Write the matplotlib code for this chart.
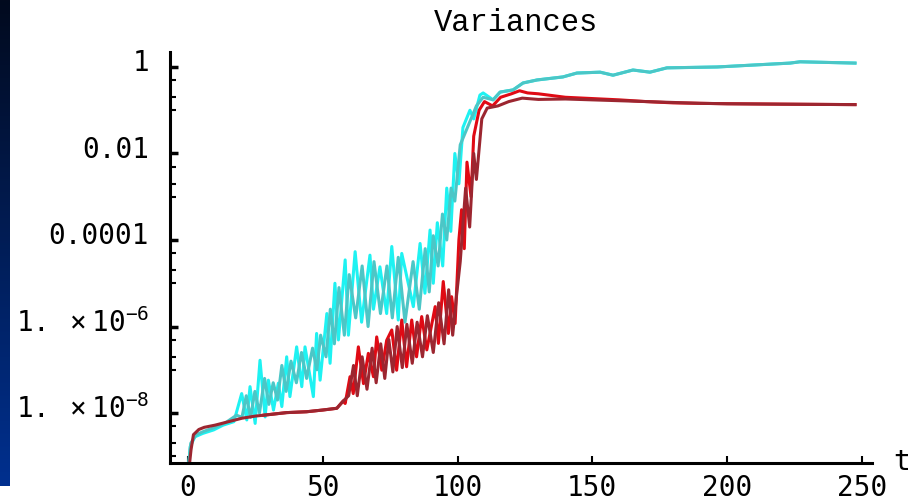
import numpy as np
import matplotlib
matplotlib.use("Agg")
import matplotlib.pyplot as plt
from matplotlib.colors import LinearSegmentedColormap
from matplotlib.ticker import FixedLocator, FuncFormatter
from matplotlib.transforms import ScaledTranslation

# values, stored as log10 of the variance
t_cyan = [0, 0.8, 2.5, 5.5, 9.5, 13, 17, 19.9, 21.8, 23, 24.9, 26.7, 28.6, 29.8,
          31.7, 33.5, 34.8, 36.6, 37.8, 40.3, 42.2, 43.4, 46.5, 47.7, 49, 51.5,
          52.7, 54.5, 55.8, 58.3, 59.5, 62, 64.4, 67.5, 68.8, 71.2, 73.7, 75.6,
          78, 79.3, 83.6, 86.1, 87.9, 89.8, 91, 92.5, 94.5, 96, 97.5, 99, 100.5,
          102, 104.6, 106, 108.3, 109.5, 113.2, 115.8, 120.6, 124.3, 129.5,
          139.1, 144.3, 152.9, 157.7, 165.1, 171.4, 177.7, 196.3, 223.4, 227.1,
          247.5]
lg_cyan = [-9.4, -8.78, -8.55, -8.47, -8.39, -8.28, -8.20, -7.55, -8.16, -7.39,
           -8.24, -6.78, -8.09, -7.24, -7.93, -7.31, -7.85, -6.70, -7.62, -6.47,
           -7.39, -6.47, -7.62, -6.16, -7.24, -5.70, -6.85, -5.0, -6.31, -4.46,
           -6.2, -4.27, -5.9, -4.35, -5.6, -4.62, -5.70, -4.15, -5.85, -4.31,
           -5.54, -4.08, -5.23, -3.77, -5.0, -3.6, -4.6, -2.8, -3.8, -2.0, -2.7,
           -1.4, -1.0, -1.2, -0.65, -0.60, -0.76, -0.58, -0.53, -0.37, -0.30,
           -0.23, -0.14, -0.12, -0.19, -0.07, -0.12, -0.02, 0.0, 0.09, 0.12, 0.09]

t_teal = [0, 1, 3, 6, 10, 14, 18, 20, 21.6, 23.2, 24.8, 26.5, 28.4, 30, 31.6,
          33.2, 34.8, 36.4, 38.2, 40.2, 42.1, 44, 46.2, 47.8, 49.2, 51.2, 52.8,
          54.3, 56, 58, 59.8, 62.2, 64.6, 66.8, 69, 71.4, 73.8, 75.8, 78, 80.5,
          83.5, 85.8, 88, 89.5, 91, 92.8, 94.4, 96, 97.6, 99, 101, 103, 105, 107,
          109.5, 113.2, 115.8, 120.6, 124.3, 129.5, 139.1, 144.3, 152.9, 157.7,
          165.1, 171.4, 177.7, 196.3, 223.4, 227.1, 247.5]
lg_teal = [-9.3, -8.7, -8.5, -8.42, -8.33, -8.22, -8.05, -8.1, -7.6, -8.1, -7.5,
           -8.0, -7.2, -7.8, -7.3, -7.7, -6.9, -7.5, -6.8, -7.3, -6.6, -7.2,
           -6.5, -7.0, -6.2, -6.7, -5.6, -6.4, -5.1, -6.2, -4.8, -5.8, -4.6,
           -6.0, -4.5, -5.7, -4.6, -5.8, -4.4, -5.9, -4.5, -5.6, -4.2, -5.2,
           -3.9, -4.6, -3.4, -4.0, -2.8, -3.1, -1.8, -1.5, -1.2, -0.9, -0.7,
           -0.76, -0.58, -0.53, -0.37, -0.30, -0.23, -0.14, -0.12, -0.19, -0.07,
           -0.12, -0.02, 0.0, 0.09, 0.12, 0.09]

t_red = [28, 36.6, 44, 50, 55.2, 57.6, 58.3, 60.1, 61.3, 63.2, 65.1, 66.9, 68.8,
         70, 71.9, 73.7, 75.6, 77.4, 79.3, 81.1, 83, 84.8, 86.7, 88.6, 91.7,
         92.9, 94.7, 96.6, 97.8, 99.1, 100.5, 101.5, 102.5, 103.5, 105, 106,
         108, 110, 113, 116, 120, 123, 126, 130, 135, 140, 150, 160, 170, 180,
         200, 247.5]
lg_red = [-8.05, -7.99, -7.97, -7.93, -7.89, -7.72, -7.78, -7.16, -7.55, -6.47,
          -7.32, -6.62, -7.16, -6.24, -7.01, -6.32, -6.08, -7.01, -5.85, -6.93,
          -5.85, -6.70, -5.77, -6.54, -5.54, -6.39, -4.96, -6.16, -5.31, -5.93,
          -4.0, -3.3, -4.2, -2.2, -3.0, -1.6, -1.0, -0.8, -0.9, -0.7, -0.62,
          -0.55, -0.6, -0.62, -0.66, -0.7, -0.73, -0.76, -0.8, -0.83, -0.85,
          -0.87]

t_dred = [0.5, 1.1, 2, 4, 6, 10, 15, 20, 25, 28, 36.6, 44, 50, 55.2, 57.6, 59.6,
          61.4, 62.8, 64.6, 66.4, 68.3, 69.8, 71.5, 73, 74.5, 76, 77.6, 79.5,
          81.2, 83.2, 85, 87, 88.8, 91, 93, 95, 96.7, 98.2, 99.6, 101, 103,
          104.5, 106, 107, 109, 111, 115, 119, 124, 130, 140, 150, 160, 170,
          180, 190, 200, 220, 247.5]
lg_dred = [-9.2, -8.85, -8.5, -8.38, -8.33, -8.28, -8.2, -8.12, -8.07, -8.05,
           -7.99, -7.97, -7.93, -7.89, -7.72, -7.6, -6.9, -7.6, -6.7, -7.45,
           -6.5, -7.3, -6.4, -7.2, -6.3, -7.05, -6.0, -6.95, -5.95, -6.85,
           -5.9, -6.7, -5.75, -6.6, -5.45, -6.4, -5.15, -6.2, -5.3, -4.5, -2.8,
           -3.7, -2.0, -2.6, -1.2, -0.95, -0.9, -0.8, -0.72, -0.75, -0.74,
           -0.76, -0.78, -0.8, -0.82, -0.84, -0.85, -0.86, -0.87]

y_major = [1, 1e-2, 1e-4, 1e-6, 1e-8]
y_labels = ["1", "0.01", "0.0001", r"$\mathregular{1.\ \times10^{-6}}$",
            r"$\mathregular{1.\ \times10^{-8}}$"]
x_ticks = [0, 50, 100, 150, 200, 250]

plt.rcParams["font.family"] = ["DejaVu Sans Mono"]
plt.rcParams["mathtext.fontset"] = "custom"
plt.rcParams["mathtext.rm"] = "DejaVu Sans Mono"

fig = plt.figure(figsize=(9.1, 5.03), dpi=100)
fig.patch.set_facecolor("white")

# navy strip on the left edge
strip = fig.add_axes([0, 1 - 486 / 503, 10 / 910, 486 / 503])
navy = LinearSegmentedColormap.from_list("navy", ["#020a1e", "#00308f"])
strip.imshow(np.linspace(0, 1, 256).reshape(-1, 1), aspect="auto", cmap=navy)
strip.axis("off")

ax = fig.add_axes([170 / 910, 1 - 463 / 503, 702 / 910, 411 / 503])
ax.set_yscale("log")

lw = 2.2
ax.plot(t_cyan, 10 ** np.array(lg_cyan), color="#1ef2f2", lw=lw)
ax.plot(t_teal, 10 ** np.array(lg_teal), color="#4cc6c6", lw=lw)
ax.plot(t_red, 10 ** np.array(lg_red), color="#e00a14", lw=lw)
ax.plot(t_dred, 10 ** np.array(lg_dred), color="#9c2630", lw=lw)

ax.set_xlim(-6.7, 253.8)
ax.set_ylim(7.0e-10, 2.22)

for s in ["top", "right"]:
    ax.spines[s].set_visible(False)
for s in ["left", "bottom"]:
    ax.spines[s].set_linewidth(2.2)
    ax.spines[s].set_color("black")

ax.yaxis.set_major_locator(FixedLocator(y_major))
ax.set_yticklabels(y_labels)
minor = []
for m in y_major:
    minor += [m * 0.5, m * 0.2, m * 0.1]
ax.yaxis.set_minor_locator(FixedLocator(minor))
ax.yaxis.set_minor_formatter(FuncFormatter(lambda v, p: ""))

ax.set_xticks(x_ticks)
ax.set_xticklabels([str(v) for v in x_ticks])

ax.tick_params(axis="y", which="major", direction="in", length=6, width=2.5,
               pad=15, labelsize=20)
ax.tick_params(axis="y", which="minor", direction="in", length=4, width=1.5)
ax.tick_params(axis="x", which="major", direction="in", length=5, width=1.5,
               pad=8, labelsize=20)

for lab in ax.get_yticklabels():
    lab.set_transform(lab.get_transform() + ScaledTranslation(0, 5 / 72, fig.dpi_scale_trans))

fig.text(516 / 910, 1 - 23 / 503, "Variances", ha="center", va="center",
         fontsize=22, family="Liberation Mono")
fig.text(893 / 910, 1 - 462 / 503, "t", ha="left", va="center", fontsize=20)

fig.savefig("out.png", dpi=100)
